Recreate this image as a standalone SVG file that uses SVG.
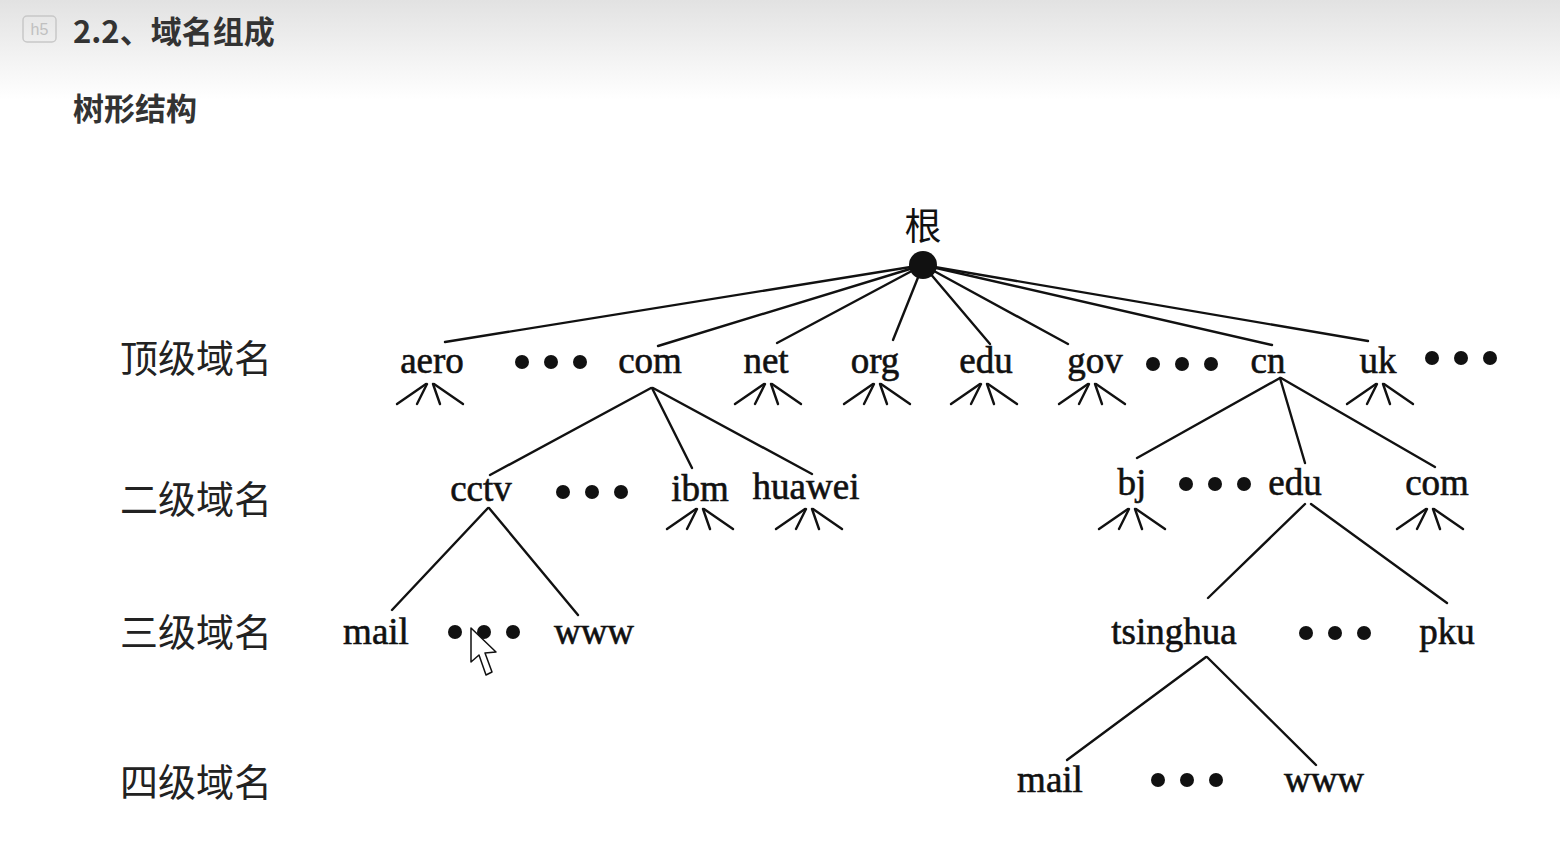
<svg xmlns="http://www.w3.org/2000/svg" xmlns:xlink="http://www.w3.org/1999/xlink" width="1560" height="849" viewBox="0 0 1560 849">
<style>
.t{font-family:"Liberation Serif","Times New Roman",serif;font-size:37px;fill:#111;stroke:#111;stroke-width:0.6;text-anchor:middle}
.lv{font-family:"Noto Sans CJK SC","Noto Sans",sans-serif;font-size:38px;fill:#222}
.hd{font-family:"Noto Sans CJK SC","Noto Sans",sans-serif;font-size:31px;font-weight:bold;fill:#333}
.ln{stroke:#111;stroke-width:2.4;fill:none;stroke-linecap:round}
.dot{fill:#111}
</style>
<defs>
<linearGradient id="hg" x1="0" y1="0" x2="0" y2="1">
<stop offset="0" stop-color="#e2e2e2"/>
<stop offset="1" stop-color="#ffffff"/>
</linearGradient>
<g id="fan" class="ln">
<line x1="-33" y1="20" x2="-4" y2="0"/>
<line x1="-13" y1="20" x2="-3" y2="0"/>
<line x1="3" y1="0" x2="10" y2="20"/>
<line x1="4" y1="0" x2="33" y2="20"/>
</g>
<g id="dots">
<circle class="dot" cx="0" cy="0" r="7"/>
<circle class="dot" cx="29" cy="0" r="7"/>
<circle class="dot" cx="58" cy="0" r="7"/>
</g>
</defs>
<rect x="0" y="0" width="1560" height="849" fill="#fff"/>
<rect x="0" y="0" width="1560" height="100" fill="url(#hg)"/>
<g id="header">
<rect x="23" y="16" width="33" height="26" rx="4" fill="none" stroke="#c8c8c8" stroke-width="1.5"/>
<text x="39.5" y="35" font-family="Liberation Sans,sans-serif" font-size="16" fill="#c0c0c0" text-anchor="middle">h5</text>
<text class="hd" x="73" y="43">2.2、域名组成</text>
<text class="hd" x="73" y="120" font-size="32">树形结构</text>
</g>
<g id="levels">
<text class="lv" x="120" y="372">顶级域名</text>
<text class="lv" x="120" y="513">二级域名</text>
<text class="lv" x="120" y="646">三级域名</text>
<text class="lv" x="120" y="796">四级域名</text>
</g>
<g id="connectors">
<line class="ln" x1="923" y1="265" x2="445" y2="342"/>
<line class="ln" x1="923" y1="265" x2="658" y2="346"/>
<line class="ln" x1="923" y1="265" x2="777" y2="343"/>
<line class="ln" x1="923" y1="265" x2="893" y2="340"/>
<line class="ln" x1="923" y1="265" x2="990" y2="344"/>
<line class="ln" x1="923" y1="265" x2="1068" y2="344"/>
<line class="ln" x1="923" y1="265" x2="1272" y2="345"/>
<line class="ln" x1="923" y1="265" x2="1368" y2="341"/>
<line class="ln" x1="651" y1="388" x2="490" y2="475"/>
<line class="ln" x1="652" y1="388" x2="692" y2="468"/>
<line class="ln" x1="653" y1="388" x2="812" y2="474"/>
<line class="ln" x1="488" y1="508" x2="392" y2="610"/>
<line class="ln" x1="489" y1="508" x2="578" y2="615"/>
<line class="ln" x1="1280" y1="378" x2="1137" y2="458"/>
<line class="ln" x1="1280" y1="378" x2="1305" y2="463"/>
<line class="ln" x1="1281" y1="378" x2="1435" y2="467"/>
<line class="ln" x1="1305" y1="504" x2="1208" y2="598"/>
<line class="ln" x1="1311" y1="504" x2="1447" y2="603"/>
<line class="ln" x1="1206" y1="657" x2="1067" y2="760"/>
<line class="ln" x1="1207" y1="657" x2="1316" y2="765"/>
</g>
<g id="root">
<text x="923" y="240" font-family="Noto Sans CJK SC,sans-serif" font-size="37" fill="#111" text-anchor="middle">根</text>
<circle class="dot" cx="923" cy="265" r="14"/>
</g>
<g id="n-aero"><text class="t" x="432" y="373">aero</text><use xlink:href="#fan" x="430" y="384"/></g>
<g id="d-top1"><use xlink:href="#dots" x="522" y="362"/></g>
<g id="n-com"><text class="t" x="650" y="373">com</text></g>
<g id="n-net"><text class="t" x="766" y="373">net</text><use xlink:href="#fan" x="768" y="384"/></g>
<g id="n-org"><text class="t" x="875" y="373">org</text><use xlink:href="#fan" x="877" y="384"/></g>
<g id="n-edu"><text class="t" x="986" y="373">edu</text><use xlink:href="#fan" x="984" y="384"/></g>
<g id="n-gov"><text class="t" x="1095" y="373">gov</text><use xlink:href="#fan" x="1092" y="384"/></g>
<g id="d-top2"><use xlink:href="#dots" x="1153" y="364"/></g>
<g id="n-cn"><text class="t" x="1268" y="373">cn</text></g>
<g id="n-uk"><text class="t" x="1378" y="373">uk</text><use xlink:href="#fan" x="1380" y="384"/></g>
<g id="d-top3"><use xlink:href="#dots" x="1432" y="358"/></g>
<g id="n-cctv"><text class="t" x="481" y="501">cctv</text></g>
<g id="d-sec1"><use xlink:href="#dots" x="563" y="492"/></g>
<g id="n-ibm"><text class="t" x="700" y="501">ibm</text><use xlink:href="#fan" x="700" y="509"/></g>
<g id="n-huawei"><text class="t" x="806" y="499">huawei</text><use xlink:href="#fan" x="809" y="509"/></g>
<g id="n-bj"><text class="t" x="1132" y="495">bj</text><use xlink:href="#fan" x="1132" y="509"/></g>
<g id="d-sec2"><use xlink:href="#dots" x="1186" y="484"/></g>
<g id="n-edu2"><text class="t" x="1295" y="495">edu</text></g>
<g id="n-com2"><text class="t" x="1437" y="495">com</text><use xlink:href="#fan" x="1430" y="509"/></g>
<g id="n-mail1"><text class="t" x="376" y="644">mail</text></g>
<g id="d-thr1"><use xlink:href="#dots" x="455" y="632"/></g>
<g id="n-www1"><text class="t" x="594" y="644">www</text></g>
<g id="n-tsinghua"><text class="t" x="1174" y="644">tsinghua</text></g>
<g id="d-thr2"><use xlink:href="#dots" x="1306" y="633"/></g>
<g id="n-pku"><text class="t" x="1447" y="644">pku</text></g>
<g id="n-mail2"><text class="t" x="1050" y="792">mail</text></g>
<g id="d-four"><use xlink:href="#dots" x="1158" y="780"/></g>
<g id="n-www2"><text class="t" x="1324" y="792">www</text></g>
<g id="cursor">
<polygon points="471,628 471,662 479,655 486,675 492,672 485,653 496,652" fill="#fff" stroke="#111" stroke-width="1.5" stroke-linejoin="round"/>
</g>
</svg>
